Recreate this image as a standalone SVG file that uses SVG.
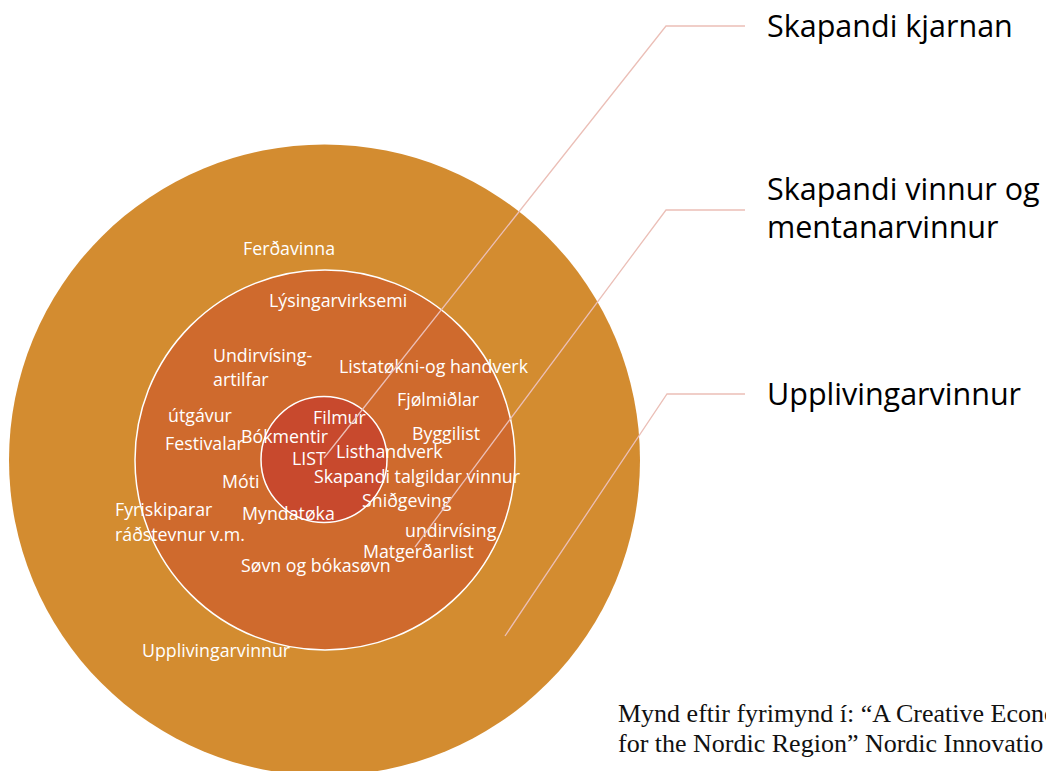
<svg xmlns="http://www.w3.org/2000/svg" width="1046" height="771" viewBox="0 0 1046 771">
  <style>
    .in { font-family: "Open Sans", "Noto Sans", "Liberation Sans", sans-serif; font-size: 17.8px; fill: #ffffff; }
    .big { font-family: "Open Sans", "Noto Sans", "Liberation Sans", sans-serif; font-size: 30.5px; fill: #000000; }
    .cap { font-family: "Liberation Serif", "DejaVu Serif", serif; font-size: 26px; fill: #111111; }
    .lead { fill: none; stroke: #ebbfb7; stroke-width: 1.3; }
  </style>
  <rect x="0" y="0" width="1046" height="771" fill="#ffffff"/>

  <g id="ring-outer">
    <circle cx="324.5" cy="460" r="315.5" fill="#d38c30"/>
  </g>

  <g id="ring-middle">
    <circle cx="325" cy="460" r="190" fill="#cf6a2d" stroke="#ffffff" stroke-width="1.5"/>
  </g>

  <g id="ring-core">
    <circle cx="324" cy="459.5" r="63" fill="#c8492d" stroke="#ffffff" stroke-width="1.5"/>
  </g>

  <g id="outer-labels">
    <text class="in" x="243" y="255">Ferðavinna</text>
    <text class="in" x="115" y="516">Fyriskiparar</text>
    <text class="in" x="115" y="541">ráðstevnur v.m.</text>
    <text class="in" x="142" y="657">Upplivingarvinnur</text>
  </g>

  <g id="middle-labels">
    <text class="in" x="269" y="307">Lýsingarvirksemi</text>
    <text class="in" x="213" y="362">Undirvísing-</text>
    <text class="in" x="213" y="386">artilfar</text>
    <text class="in" x="339" y="373">Listatøkni-og handverk</text>
    <text class="in" x="168" y="422">útgávur</text>
    <text class="in" x="397" y="406">Fjølmiðlar</text>
    <text class="in" x="412" y="440">Byggilist</text>
    <text class="in" x="165" y="450">Festivalar</text>
    <text class="in" x="222" y="488">Móti</text>
    <text class="in" x="362" y="507">Sniðgeving</text>
    <text class="in" x="242" y="520">Myndatøka</text>
    <text class="in" x="405" y="537">undirvísing</text>
    <text class="in" x="363" y="558">Matgerðarlist</text>
    <text class="in" x="241" y="572">Søvn og bókasøvn</text>
  </g>

  <g id="core-labels">
    <text class="in" x="313" y="424">Filmur</text>
    <text class="in" x="241" y="443">Bókmentir</text>
    <text class="in" x="336" y="458">Listhandverk</text>
    <text class="in" x="292" y="465">LIST</text>
    <text class="in" x="314" y="483">Skapandi talgildar vinnur</text>
  </g>

  <g id="connectors">
    <polyline class="lead" points="324,458 666,26 745,26"/>
    <polyline class="lead" points="415,547 666,210 745,210"/>
    <polyline class="lead" points="505,636 667,394 745,394"/>
  </g>

  <g id="legend-core">
    <text class="big" x="767" y="37">Skapandi kjarnan</text>
  </g>
  <g id="legend-middle">
    <text class="big" x="767" y="200">Skapandi vinnur og</text>
    <text class="big" x="767" y="238">mentanarvinnur</text>
  </g>
  <g id="legend-outer">
    <text class="big" x="767" y="405">Upplivingarvinnur</text>
  </g>

  <g id="caption">
    <text class="cap" x="618" y="722">Mynd eftir fyrimynd í: “A Creative Econo</text>
    <text class="cap" x="618" y="752">for the Nordic Region” Nordic Innovatio</text>
  </g>
</svg>
